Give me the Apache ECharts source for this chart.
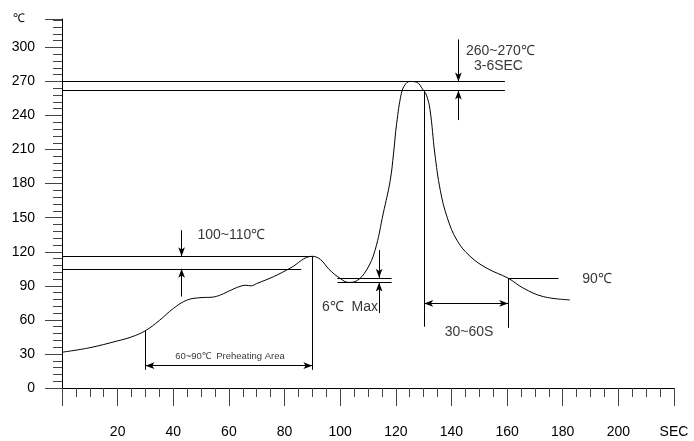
<!DOCTYPE html>
<html><head><meta charset="utf-8">
<script src="https://cdn.jsdelivr.net/npm/echarts@6/dist/echarts.min.js"></script>
<style>html,body{margin:0;padding:0;background:#fff}#c{width:694px;height:441px}</style>
</head><body><div id="c"></div>
<script>
// Reflow profile curve (time in s, temperature in ℃)
const timeSec = [0, 10, 20, 25, 30, 35, 40, 45, 50, 54, 57, 61, 64, 66, 68, 70, 76, 82, 90, 93, 96, 100, 103, 106, 109.5, 112.5, 115.5, 118, 119.2, 120.3, 122, 123.3, 125, 127.5, 129.7, 131, 132.3, 134, 136, 138.5, 142, 146.7, 152.7, 160.4, 165.8, 173, 182.6];
const tempC   = [31.5, 35.5, 41.5, 45, 50.5, 59.5, 70, 77.5, 79.6, 80, 82, 86.5, 89.5, 90.5, 90, 92, 98, 105.5, 116, 113, 104.5, 96.5, 93, 94.5, 104, 121, 154, 183, 207, 233, 259.5, 267, 270, 269.3, 263, 258, 245, 207, 174, 150, 130, 116, 105.5, 96.7, 88, 80.5, 77.6];

// Axis tick labels
const xTickLabels = ['', '20', '40', '60', '80', '100', '120', '140', '160', '180', '200', 'SEC'];
const yTickLabels = ['0', '30', '60', '90', '120', '150', '180', '210', '240', '270', '300'];

// Annotation segments (data coordinates)
const plainLines = [
  [[0, 116], [90, 116]],
  [[0, 105], [86, 105]],
  [[0, 270], [159.2, 270]],
  [[0, 262], [159.2, 262]],
  [[99, 97], [118.5, 97]],
  [[99, 93], [118.5, 93]],
  [[160.4, 96.7], [178.5, 96.7]],
  [[30, 50.5], [30, 16]],
  [[90, 116], [90, 16]],
  [[130.2, 262], [130.2, 54]],
  [[160.4, 96.7], [160.4, 53]]
];
const endArrows = [
  [[43, 139], [43, 116]],
  [[43, 80.5], [43, 105]],
  [[114, 121.5], [114, 97]],
  [[114, 66], [114, 93]],
  [[142.5, 307], [142.5, 270]],
  [[142.5, 236], [142.5, 262]]
];
const bothArrows = [
  [[30, 19.7], [90, 19.7]],
  [[130.2, 74.5], [160.4, 74.5]]
];
// Notes: text, x, y, font size
const noteText = ['100~110℃', '6℃  Max', '60~90℃  Preheating Area', '260~270℃', '3-6SEC', '30~60S', '90℃'];
const noteX    = [60.9, 103.5, 60.4, 157.6, 156.9, 146.3, 192.3];
const noteY    = [134.9, 71.4, 28.2, 296.6, 283.3, 49.6, 95.9];
const noteSize = [14, 14, 9.5, 14, 14, 14, 14];

const FONT = '"Liberation Sans", Arial, sans-serif';
const mlData = [];
plainLines.forEach(s => mlData.push([{coord: s[0], symbol: 'none'}, {coord: s[1], symbol: 'none'}]));
endArrows.forEach(s => mlData.push([{coord: s[0], symbol: 'none'}, {coord: s[1], symbol: 'arrow', symbolSize: [5, 9]}]));
bothArrows.forEach(s => mlData.push([{coord: s[0], symbol: 'arrow', symbolSize: [5, 9]}, {coord: s[1], symbol: 'arrow', symbolSize: [5, 9]}]));

const chart = echarts.init(document.getElementById('c'), null, {renderer: 'canvas'});
chart.setOption({
  animation: false,
  backgroundColor: '#fff',
  grid: {left: 62, right: 20, top: 19, bottom: 53, containLabel: false},
  xAxis: {
    type: 'value', min: 0, max: 220, interval: 20,
    axisLine: {show: true, onZero: false, lineStyle: {color: '#000', width: 1}},
    axisTick: {show: true, length: 18, lineStyle: {color: '#444', width: 1}},
    minorTick: {show: true, splitNumber: 4, length: 9, lineStyle: {color: '#444', width: 1}},
    splitLine: {show: false},
    axisLabel: {
      margin: 37, color: '#000', fontSize: 14, fontFamily: FONT,
      formatter: v => xTickLabels[Math.round(v / 20)] || ''
    }
  },
  yAxis: {
    type: 'value', min: 0, max: 325, interval: 30,
    name: '℃', nameLocation: 'end', nameGap: 0,
    nameTextStyle: {align: 'right', verticalAlign: 'middle', padding: [0, 37, 0, 0], fontSize: 12, color: '#000', fontFamily: FONT},
    axisLine: {show: true, onZero: false, lineStyle: {color: '#000', width: 1}},
    axisTick: {show: true, length: 17, lineStyle: {color: '#444', width: 1}},
    minorTick: {show: true, splitNumber: 5, length: 9, lineStyle: {color: '#444', width: 1}},
    splitLine: {show: false},
    axisLabel: {
      margin: 27, color: '#000', fontSize: 14, fontFamily: FONT, showMaxLabel: false,
      formatter: v => (v % 30 === 0 && v <= 300) ? yTickLabels[v / 30] : ''
    }
  },
  series: [
    {
      type: 'line',
      data: timeSec.map((t, i) => [t, tempC[i]]),
      smooth: 0.4,
      showSymbol: false, symbol: 'none',
      lineStyle: {color: '#000', width: 1},
      silent: true,
      markLine: {
        silent: true, animation: false,
        label: {show: false},
        lineStyle: {type: 'solid', color: '#000', width: 1},
        emphasis: {disabled: true},
        data: mlData
      }
    },
    {
      type: 'scatter',
      symbolSize: 0,
      silent: true,
      data: noteText.map((s, i) => ({value: [noteX[i], noteY[i]], name: s, label: {fontSize: noteSize[i]}})),
      label: {
        show: true, position: 'inside', color: '#000', fontFamily: FONT,
        formatter: p => p.name
      }
    }
  ]
});
</script></body></html>
